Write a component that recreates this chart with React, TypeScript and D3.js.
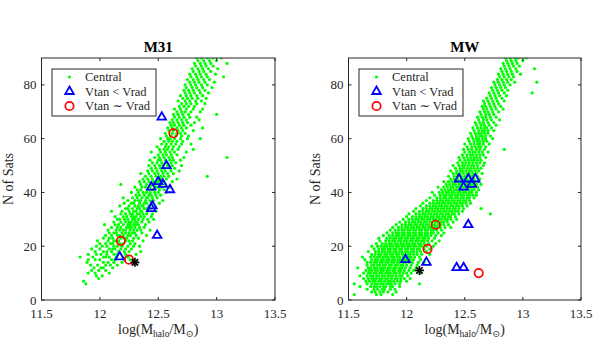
import { useRef, useEffect } from 'react';
import * as d3 from 'd3';

const xTicks = [11.5, 12, 12.5, 13, 13.5];
const yTicks = [0, 20, 40, 60, 80];
const legendLabels = ['Central', 'Vtan < Vrad', 'Vtan \u223c Vrad'];

// M31 centrals: one row per satellite count N, starting at m31FirstN; values are log(Mhalo/Msun)
const m31FirstN = 6;
const m31Rows: number[][] = [
  [11.88],
  [11.86],
  [11.99],
  [11.97, 12.02],
  [11.9, 11.96, 12.08],
  [11.93, 11.99, 12.05],
  [11.95, 12.01, 12.03, 12.11],
  [11.92, 11.98, 12.05, 12.09, 12.15],
  [11.89, 12.03, 12.07, 12.12, 12.19],
  [11.9, 11.96, 12.0, 12.1, 12.13, 12.21, 12.26],
  [11.83, 11.94, 12.03, 12.05, 12.08, 12.14, 12.2, 12.24],
  [11.9, 11.97, 12.01, 12.06, 12.12, 12.15, 12.22, 12.31],
  [11.96, 12.03, 12.06, 12.1, 12.16, 12.21, 12.25, 12.35],
  [11.93, 12.0, 12.08, 12.11, 12.13, 12.18, 12.22, 12.27],
  [11.97, 12.02, 12.06, 12.12, 12.15, 12.19, 12.24, 12.29, 12.34],
  [12.0, 12.05, 12.09, 12.11, 12.17, 12.2, 12.26, 12.3],
  [11.98, 12.07, 12.12, 12.14, 12.16, 12.22, 12.25, 12.28, 12.37],
  [12.03, 12.08, 12.11, 12.18, 12.21, 12.23, 12.29, 12.33],
  [12.05, 12.1, 12.15, 12.17, 12.2, 12.24, 12.26, 12.31, 12.4],
  [12.08, 12.12, 12.14, 12.19, 12.22, 12.25, 12.28, 12.3, 12.36],
  [12.07, 12.14, 12.17, 12.2, 12.22, 12.26, 12.29, 12.32, 12.35, 12.43],
  [12.1, 12.15, 12.18, 12.23, 12.25, 12.27, 12.3, 12.34, 12.38],
  [12.04, 12.13, 12.16, 12.2, 12.24, 12.26, 12.29, 12.31, 12.33, 12.39],
  [12.12, 12.18, 12.22, 12.25, 12.27, 12.3, 12.32, 12.36, 12.42],
  [12.15, 12.17, 12.21, 12.24, 12.28, 12.3, 12.33, 12.37, 12.41, 12.46],
  [12.13, 12.2, 12.23, 12.27, 12.29, 12.31, 12.35, 12.38, 12.44],
  [12.18, 12.22, 12.26, 12.28, 12.32, 12.34, 12.37, 12.4, 12.45],
  [12.1, 12.19, 12.25, 12.29, 12.31, 12.35, 12.36, 12.41, 12.48],
  [12.22, 12.24, 12.28, 12.32, 12.34, 12.38, 12.4, 12.43],
  [12.17, 12.25, 12.3, 12.33, 12.36, 12.37, 12.42, 12.47],
  [12.21, 12.27, 12.29, 12.34, 12.38, 12.4, 12.44, 12.51],
  [12.24, 12.3, 12.33, 12.35, 12.39, 12.43, 12.46, 12.54],
  [12.2, 12.28, 12.32, 12.36, 12.4, 12.41, 12.45, 12.49],
  [12.31, 12.34, 12.38, 12.42, 12.44, 12.48, 12.52],
  [12.27, 12.33, 12.37, 12.4, 12.43, 12.47, 12.5, 12.57],
  [12.32, 12.35, 12.41, 12.45, 12.46, 12.51, 12.55],
  [12.3, 12.36, 12.39, 12.43, 12.48, 12.5, 12.53, 12.6],
  [12.18, 12.35, 12.4, 12.44, 12.47, 12.52, 12.56],
  [12.34, 12.38, 12.42, 12.46, 12.49, 12.51, 12.55, 12.62],
  [12.37, 12.41, 12.45, 12.5, 12.53, 12.57, 12.66],
  [12.39, 12.44, 12.48, 12.52, 12.55, 12.59, 12.92],
  [12.35, 12.42, 12.47, 12.5, 12.54, 12.58, 12.63],
  [12.41, 12.45, 12.49, 12.53, 12.56, 12.61, 12.68],
  [12.44, 12.48, 12.52, 12.55, 12.6, 12.64],
  [12.42, 12.47, 12.51, 12.54, 12.58, 12.62, 12.7],
  [12.45, 12.49, 12.53, 12.57, 12.61, 12.65],
  [12.43, 12.5, 12.52, 12.56, 12.6, 12.63, 12.69],
  [12.47, 12.51, 12.55, 12.59, 12.62, 12.72, 13.09],
  [12.5, 12.54, 12.57, 12.61, 12.66],
  [12.44, 12.52, 12.56, 12.6, 12.64, 12.74],
  [12.51, 12.55, 12.58, 12.62, 12.67, 12.8],
  [12.49, 12.56, 12.59, 12.63, 12.68],
  [12.53, 12.57, 12.61, 12.65, 12.7, 12.78],
  [12.55, 12.59, 12.62, 12.66, 12.71],
  [12.52, 12.58, 12.6, 12.64, 12.69, 12.75, 12.86],
  [12.57, 12.61, 12.65, 12.7, 12.76],
  [12.56, 12.62, 12.66, 12.69, 12.73],
  [12.59, 12.63, 12.67, 12.71, 12.8],
  [12.58, 12.62, 12.66, 12.7, 12.74, 12.88],
  [12.61, 12.64, 12.68, 12.72, 12.78],
  [12.6, 12.63, 12.67, 12.71, 12.75, 12.81],
  [12.62, 12.66, 12.7, 12.74, 12.85],
  [12.64, 12.68, 12.72, 12.77, 12.83],
  [12.63, 12.67, 12.71, 12.76, 13.0],
  [12.66, 12.7, 12.73, 12.78, 12.86],
  [12.64, 12.69, 12.74, 12.8, 12.88],
  [12.68, 12.72, 12.76, 12.81],
  [12.7, 12.74, 12.78, 12.83, 12.9],
  [12.67, 12.73, 12.77, 12.82, 12.87],
  [12.71, 12.75, 12.79, 12.84, 12.91],
  [12.69, 12.74, 12.78, 12.83, 12.88],
  [12.73, 12.77, 12.81, 12.86, 12.93],
  [12.72, 12.76, 12.8, 12.85, 12.9],
  [12.74, 12.79, 12.83, 12.88, 12.96],
  [12.73, 12.78, 12.82, 12.87, 12.92],
  [12.77, 12.81, 12.85, 12.9, 12.98],
  [12.75, 12.8, 12.84, 12.89, 12.94],
  [12.78, 12.83, 12.87, 12.92, 13.06],
  [12.77, 12.82, 12.86, 12.91, 12.99],
  [12.8, 12.85, 12.89, 12.95],
  [12.79, 12.84, 12.88, 12.93, 13.01],
  [12.82, 12.87, 12.91, 12.97],
  [12.81, 12.86, 12.9, 12.95, 13.09],
  [12.84, 12.89, 12.94, 13.0],
  [12.83, 12.87, 12.92, 12.97, 13.04],
];
const m31Tangential: [number, number][] = [
  [12.53, 68], [12.57, 50], [12.5, 44], [12.54, 43], [12.44, 42],
  [12.6, 41], [12.45, 35], [12.44, 34], [12.49, 24], [12.17, 16],
];
const m31Comparable: [number, number][] = [[12.63, 62], [12.18, 22], [12.25, 15]];
const m31Host: [number, number] = [12.3, 14];

// MW centrals, same layout, starting at N = mwFirstN
const mwFirstN = 2;
const mwRows: number[][] = [
  [11.55, 11.74, 11.78, 11.88],
  [11.7, 11.73, 11.77, 11.8, 11.84, 11.91],
  [11.66, 11.72, 11.75, 11.79, 11.81, 11.86, 11.9],
  [11.6, 11.69, 11.72, 11.74, 11.77, 11.8, 11.82, 11.86, 11.88, 11.94],
  [11.55, 11.66, 11.7, 11.73, 11.75, 11.78, 11.8, 11.83, 11.85, 11.87, 11.9, 11.94, 12.11],
  [11.65, 11.68, 11.71, 11.73, 11.76, 11.78, 11.81, 11.84, 11.86, 11.89, 11.92, 11.95, 12.0],
  [11.63, 11.67, 11.7, 11.72, 11.74, 11.77, 11.79, 11.82, 11.84, 11.87, 11.9, 11.92, 11.95, 11.98, 12.03],
  [11.6, 11.66, 11.69, 11.71, 11.74, 11.76, 11.79, 11.81, 11.84, 11.86, 11.88, 11.91, 11.94, 11.96, 12.01],
  [11.63, 11.67, 11.69, 11.72, 11.74, 11.77, 11.79, 11.82, 11.84, 11.86, 11.89, 11.91, 11.94, 11.97, 12.0, 12.04, 12.12],
  [11.65, 11.68, 11.7, 11.73, 11.75, 11.78, 11.8, 11.83, 11.85, 11.88, 11.9, 11.93, 11.95, 11.98, 12.02, 12.06],
  [11.58, 11.67, 11.69, 11.72, 11.74, 11.77, 11.79, 11.81, 11.84, 11.86, 11.89, 11.91, 11.94, 11.96, 11.99, 12.03, 12.08],
  [11.66, 11.7, 11.72, 11.75, 11.77, 11.8, 11.82, 11.85, 11.87, 11.9, 11.92, 11.95, 11.97, 12.0, 12.04, 12.09],
  [11.66, 11.69, 11.72, 11.74, 11.77, 11.79, 11.82, 11.84, 11.87, 11.89, 11.92, 11.94, 11.97, 11.99, 12.02, 12.05, 12.1, 12.15],
  [11.64, 11.7, 11.73, 11.75, 11.78, 11.8, 11.83, 11.85, 11.88, 11.9, 11.93, 11.95, 11.98, 12.0, 12.03, 12.06, 12.12],
  [11.62, 11.69, 11.72, 11.75, 11.77, 11.8, 11.82, 11.84, 11.87, 11.89, 11.92, 11.94, 11.97, 11.99, 12.02, 12.04, 12.07, 12.11],
  [11.7, 11.73, 11.76, 11.78, 11.81, 11.83, 11.86, 11.88, 11.91, 11.93, 11.96, 11.98, 12.01, 12.03, 12.06, 12.09, 12.13, 12.2],
  [11.67, 11.73, 11.76, 11.79, 11.81, 11.84, 11.86, 11.89, 11.91, 11.94, 11.96, 11.99, 12.01, 12.04, 12.06, 12.09, 12.12, 12.17],
  [11.72, 11.76, 11.79, 11.81, 11.84, 11.86, 11.89, 11.91, 11.94, 11.96, 11.99, 12.01, 12.04, 12.06, 12.09, 12.11, 12.15, 12.2],
  [11.7, 11.75, 11.78, 11.81, 11.83, 11.86, 11.88, 11.91, 11.93, 11.96, 11.98, 12.01, 12.03, 12.06, 12.08, 12.11, 12.13, 12.17, 12.23],
  [11.74, 11.79, 11.82, 11.85, 11.87, 11.9, 11.92, 11.95, 11.97, 12.0, 12.02, 12.05, 12.07, 12.1, 12.12, 12.15, 12.19, 12.25],
  [11.77, 11.82, 11.85, 11.88, 11.9, 11.93, 11.95, 11.98, 12.0, 12.03, 12.05, 12.08, 12.1, 12.13, 12.15, 12.18, 12.22, 12.28],
  [11.76, 11.83, 11.86, 11.89, 11.91, 11.94, 11.96, 11.99, 12.01, 12.04, 12.06, 12.09, 12.11, 12.14, 12.16, 12.19, 12.24],
  [11.8, 11.85, 11.88, 11.91, 11.93, 11.96, 11.98, 12.01, 12.03, 12.06, 12.08, 12.11, 12.13, 12.16, 12.18, 12.21, 12.25, 12.3],
  [11.83, 11.88, 11.91, 11.93, 11.96, 11.98, 12.01, 12.03, 12.06, 12.08, 12.11, 12.13, 12.16, 12.18, 12.21, 12.23, 12.27, 12.32],
  [11.86, 11.9, 11.93, 11.96, 11.98, 12.01, 12.03, 12.06, 12.08, 12.11, 12.13, 12.16, 12.18, 12.21, 12.23, 12.26, 12.3],
  [11.88, 11.93, 11.96, 11.99, 12.01, 12.04, 12.06, 12.09, 12.11, 12.14, 12.16, 12.19, 12.21, 12.24, 12.26, 12.29, 12.33, 12.38],
  [11.91, 11.96, 11.99, 12.02, 12.04, 12.07, 12.09, 12.12, 12.14, 12.17, 12.19, 12.22, 12.24, 12.27, 12.29, 12.32, 12.36],
  [11.94, 11.99, 12.02, 12.05, 12.07, 12.1, 12.12, 12.15, 12.17, 12.2, 12.22, 12.25, 12.27, 12.3, 12.32, 12.35, 12.4],
  [11.97, 12.02, 12.05, 12.08, 12.1, 12.13, 12.15, 12.18, 12.2, 12.23, 12.25, 12.28, 12.3, 12.33, 12.35, 12.38, 12.43],
  [12.0, 12.05, 12.08, 12.11, 12.13, 12.16, 12.18, 12.21, 12.23, 12.26, 12.28, 12.31, 12.33, 12.36, 12.38, 12.42],
  [12.02, 12.08, 12.11, 12.14, 12.16, 12.19, 12.21, 12.24, 12.26, 12.29, 12.31, 12.34, 12.36, 12.39, 12.41, 12.45, 12.72],
  [12.06, 12.11, 12.14, 12.17, 12.19, 12.22, 12.24, 12.27, 12.29, 12.32, 12.34, 12.37, 12.39, 12.42, 12.44, 12.48],
  [12.08, 12.14, 12.17, 12.2, 12.22, 12.25, 12.27, 12.3, 12.32, 12.35, 12.37, 12.4, 12.42, 12.45, 12.49, 12.64],
  [12.12, 12.17, 12.2, 12.23, 12.25, 12.28, 12.3, 12.33, 12.35, 12.38, 12.4, 12.43, 12.45, 12.48, 12.52],
  [12.14, 12.2, 12.23, 12.26, 12.28, 12.31, 12.33, 12.36, 12.38, 12.41, 12.43, 12.46, 12.48, 12.51, 12.55],
  [12.17, 12.23, 12.26, 12.29, 12.31, 12.34, 12.36, 12.39, 12.41, 12.44, 12.46, 12.49, 12.51, 12.54],
  [12.2, 12.26, 12.29, 12.32, 12.34, 12.37, 12.39, 12.42, 12.44, 12.47, 12.49, 12.52, 12.54, 12.58],
  [12.24, 12.29, 12.32, 12.34, 12.37, 12.39, 12.42, 12.44, 12.47, 12.49, 12.52, 12.54, 12.57, 12.6],
  [12.22, 12.28, 12.31, 12.34, 12.36, 12.39, 12.41, 12.44, 12.46, 12.49, 12.51, 12.54, 12.56, 12.6],
  [12.3, 12.33, 12.36, 12.38, 12.41, 12.43, 12.46, 12.48, 12.51, 12.53, 12.56, 12.58, 12.62],
  [12.27, 12.32, 12.35, 12.38, 12.4, 12.43, 12.45, 12.48, 12.5, 12.53, 12.55, 12.58, 12.61],
  [12.34, 12.37, 12.4, 12.42, 12.45, 12.47, 12.5, 12.52, 12.55, 12.57, 12.6, 12.64],
  [12.32, 12.36, 12.39, 12.42, 12.44, 12.47, 12.49, 12.52, 12.54, 12.57, 12.59, 12.62],
  [12.38, 12.41, 12.44, 12.47, 12.49, 12.52, 12.55, 12.58, 12.63],
  [12.36, 12.41, 12.44, 12.47, 12.5, 12.52, 12.55, 12.57, 12.61],
  [12.4, 12.43, 12.46, 12.49, 12.52, 12.54, 12.57, 12.6, 12.65],
  [12.38, 12.43, 12.46, 12.48, 12.51, 12.54, 12.56, 12.59, 12.62],
  [12.42, 12.46, 12.49, 12.52, 12.55, 12.58, 12.61, 12.64],
  [12.4, 12.45, 12.48, 12.5, 12.53, 12.56, 12.58, 12.61, 12.66],
  [12.44, 12.48, 12.51, 12.54, 12.57, 12.6, 12.63, 12.67],
  [12.46, 12.5, 12.53, 12.56, 12.58, 12.61, 12.64],
  [12.45, 12.49, 12.52, 12.55, 12.58, 12.6, 12.63, 12.68],
  [12.48, 12.52, 12.55, 12.57, 12.6, 12.63, 12.66],
  [12.5, 12.54, 12.57, 12.59, 12.62, 12.65, 12.7],
  [12.49, 12.53, 12.56, 12.6, 12.63, 12.67, 12.84],
  [12.52, 12.56, 12.59, 12.62, 12.64, 12.68],
  [12.5, 12.55, 12.58, 12.61, 12.63, 12.66, 12.71],
  [12.54, 12.58, 12.61, 12.63, 12.66, 12.69],
  [12.53, 12.57, 12.6, 12.62, 12.65, 12.68, 12.74],
  [12.56, 12.6, 12.63, 12.65, 12.68, 12.72],
  [12.55, 12.59, 12.62, 12.64, 12.67, 12.7],
  [12.58, 12.62, 12.65, 12.67, 12.7, 12.75],
  [12.57, 12.61, 12.64, 12.67, 12.69, 12.73],
  [12.6, 12.64, 12.67, 12.71, 12.77],
  [12.59, 12.63, 12.66, 12.7, 12.75],
  [12.62, 12.66, 12.69, 12.73, 12.8],
  [12.61, 12.65, 12.68, 12.72, 12.77],
  [12.64, 12.68, 12.71, 12.75],
  [12.63, 12.67, 12.7, 12.74, 12.79],
  [12.66, 12.69, 12.73, 12.77, 12.83],
  [12.65, 12.68, 12.72, 12.76, 12.81],
  [12.67, 12.71, 12.75, 12.79],
  [12.66, 12.7, 12.74, 12.78, 12.84],
  [12.69, 12.73, 12.77, 12.82],
  [12.72, 12.76, 12.8, 12.86],
  [12.71, 12.75, 12.79, 12.84, 13.08],
  [12.74, 12.78, 12.82, 12.87],
  [12.73, 12.77, 12.81, 12.85],
  [12.76, 12.8, 12.84, 12.89],
  [12.75, 12.79, 12.83, 12.87, 12.93, 13.12],
  [12.78, 12.82, 12.86, 12.9],
  [12.8, 12.84, 12.88, 12.92],
  [12.79, 12.83, 12.87, 12.91, 12.98],
  [12.82, 12.86, 12.9, 12.95],
  [12.81, 12.85, 12.89, 12.94, 13.1],
  [12.84, 12.88, 12.92, 12.97],
  [12.83, 12.87, 12.91, 12.95],
  [12.86, 12.9, 12.94, 13.0],
  [12.85, 12.89, 12.93, 12.96, 13.03],
];
const mwTangential: [number, number][] = [
  [12.45, 45], [12.53, 45], [12.59, 45], [12.49, 42], [12.56, 43],
  [12.53, 28], [11.99, 15], [12.17, 14], [12.43, 12], [12.49, 12],
];
const mwComparable: [number, number][] = [[12.25, 28], [12.18, 19], [12.62, 10]];
const mwHost: [number, number] = [12.11, 11];

const font = '"Liberation Serif", "DejaVu Serif", serif';
const axisColor = '#262626';
const top = 58;
const bottom = 300;
const dotR = 1.6;

function drawPanel(svg, p) {
  const x = d3.scaleLinear().domain([11.5, 13.5]).range([p.left, p.right]);
  const y = d3.scaleLinear().domain([0, 90]).range([bottom, top]);
  const g = svg.append('g');

  const clipId = 'clip-' + p.title;
  g.append('clipPath').attr('id', clipId)
    .append('rect').attr('x', p.left).attr('y', top)
    .attr('width', p.right - p.left).attr('height', bottom - top);

  const dots = p.rows.flatMap((row, i) => row.map((m) => [m, p.firstN + i]));
  const plot = g.append('g').attr('clip-path', `url(#${clipId})`);
  plot.selectAll('circle.dot').data(dots).join('circle')
    .attr('class', 'dot')
    .attr('cx', (d) => x(d[0])).attr('cy', (d) => y(d[1]))
    .attr('r', dotR).attr('fill', '#00ff00');

  const tri = d3.symbol(d3.symbolTriangle, 32)();
  plot.selectAll('path.tri').data(p.tangential).join('path')
    .attr('class', 'tri')
    .attr('d', tri)
    .attr('transform', (d) => `translate(${x(d[0])},${y(d[1])})`)
    .attr('fill', 'none').attr('stroke', '#0000ff').attr('stroke-width', 1.8);

  plot.selectAll('circle.cmp').data(p.comparable).join('circle')
    .attr('class', 'cmp')
    .attr('cx', (d) => x(d[0])).attr('cy', (d) => y(d[1])).attr('r', 4.2)
    .attr('fill', 'none').attr('stroke', '#ff0000').attr('stroke-width', 1.7);

  const star = plot.append('g')
    .attr('transform', `translate(${x(p.host[0])},${y(p.host[1])})`);
  [0, 45, 90, 135].forEach((a) => {
    star.append('line').attr('x1', -4.5).attr('x2', 4.5)
      .attr('transform', `rotate(${a})`)
      .attr('stroke', '#000').attr('stroke-width', 1.7);
  });

  // box + inward ticks on all sides
  g.append('rect').attr('x', p.left).attr('y', top)
    .attr('width', p.right - p.left).attr('height', bottom - top)
    .attr('fill', 'none').attr('stroke', axisColor).attr('stroke-width', 1);

  xTicks.forEach((t) => {
    g.append('line').attr('x1', x(t)).attr('x2', x(t)).attr('y1', bottom).attr('y2', bottom - 3)
      .attr('stroke', axisColor);
    g.append('line').attr('x1', x(t)).attr('x2', x(t)).attr('y1', top).attr('y2', top + 3)
      .attr('stroke', axisColor);
    g.append('text').attr('x', x(t)).attr('y', 318).attr('text-anchor', 'middle')
      .attr('font-family', font).attr('font-size', 13).attr('fill', axisColor)
      .text(t);
  });
  yTicks.forEach((t) => {
    g.append('line').attr('x1', p.left).attr('x2', p.left + 3).attr('y1', y(t)).attr('y2', y(t))
      .attr('stroke', axisColor);
    g.append('line').attr('x1', p.right).attr('x2', p.right - 3).attr('y1', y(t)).attr('y2', y(t))
      .attr('stroke', axisColor);
    g.append('text').attr('x', p.left - 5).attr('y', y(t) + 4.5).attr('text-anchor', 'end')
      .attr('font-family', font).attr('font-size', 13).attr('fill', axisColor)
      .text(t);
  });

  const cx = (p.left + p.right) / 2;
  g.append('text').attr('x', cx).attr('y', 51.5).attr('text-anchor', 'middle')
    .attr('font-family', font).attr('font-size', 15).attr('font-weight', 'bold')
    .text(p.title);

  g.append('text')
    .attr('transform', `translate(${p.left - 29},${(top + bottom) / 2}) rotate(-90)`)
    .attr('text-anchor', 'middle')
    .attr('font-family', font).attr('font-size', 14).attr('fill', axisColor)
    .text('N of Sats');

  const xl = g.append('text').attr('x', cx).attr('y', 334).attr('text-anchor', 'middle')
    .attr('font-family', font).attr('font-size', 14).attr('fill', axisColor);
  xl.append('tspan').text('log(M');
  xl.append('tspan').attr('font-size', 9.5).attr('dy', 3).text('halo');
  xl.append('tspan').attr('dy', -3).text('/M');
  xl.append('tspan').attr('font-size', 9.5).attr('dy', 3).text('\u2299');
  xl.append('tspan').attr('dy', -3).text(')');

  // legend
  const lx = p.left + 10.5;
  const lg = g.append('g');
  lg.append('rect').attr('x', lx).attr('y', 69).attr('width', 104).attr('height', 47)
    .attr('fill', '#fff').attr('stroke', axisColor).attr('stroke-width', 1);
  const rowsY = [77, 91.5, 106];
  lg.append('circle').attr('cx', lx + 17.5).attr('cy', rowsY[0]).attr('r', dotR).attr('fill', '#00ff00');
  lg.append('path').attr('d', tri).attr('transform', `translate(${lx + 17.5},${rowsY[1]})`)
    .attr('fill', 'none').attr('stroke', '#0000ff').attr('stroke-width', 1.8);
  lg.append('circle').attr('cx', lx + 17.5).attr('cy', rowsY[2]).attr('r', 4.2)
    .attr('fill', 'none').attr('stroke', '#ff0000').attr('stroke-width', 1.7);
  legendLabels.forEach((s, i) => {
    lg.append('text').attr('x', lx + 33).attr('y', rowsY[i] + 4.2)
      .attr('font-family', font).attr('font-size', 12.5).attr('fill', axisColor)
      .text(s);
  });
}

export default function App() {
  const svgRef = useRef(null);

  useEffect(() => {
    const svg = d3.select(svgRef.current);
    svg.selectAll('*').remove();
    drawPanel(svg, {
      title: 'M31', left: 41.5, right: 275, firstN: m31FirstN, rows: m31Rows,
      tangential: m31Tangential, comparable: m31Comparable, host: m31Host,
    });
    drawPanel(svg, {
      title: 'MW', left: 348.5, right: 581, firstN: mwFirstN, rows: mwRows,
      tangential: mwTangential, comparable: mwComparable, host: mwHost,
    });
  }, []);

  return (
    <svg ref={svgRef} width={598} height={353}
      style={{ position: 'absolute', left: 0, top: 0, background: '#fff' }} />
  );
}
